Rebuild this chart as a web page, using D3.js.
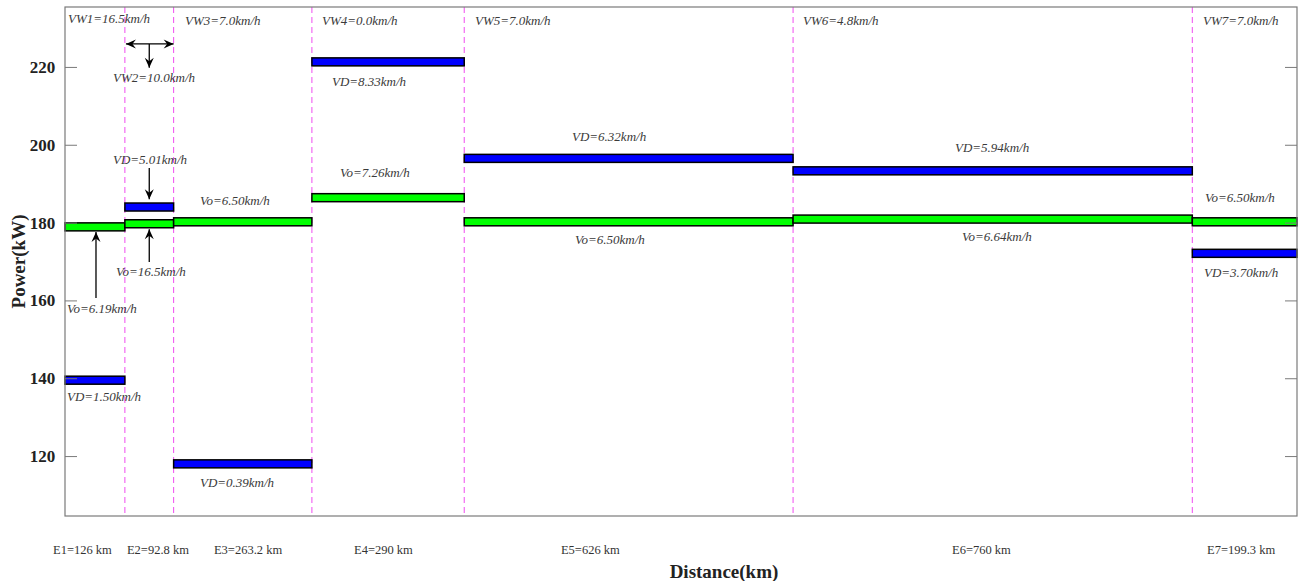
<!DOCTYPE html>
<html>
  <head>
    <meta charset="utf-8">
    <title>Power by stage</title>
    <style media="screen">
      body {margin:0; background:#fff}
      svg {display:block}
      .note {font: italic 13px "Liberation Serif", serif; fill: #3a3a3a}
      .stage {font: 12.5px "Liberation Serif", serif; fill: #333}
      .tick {font: bold 17px "Liberation Serif", serif; fill: #222}
      .title {font: bold 19px "Liberation Serif", serif; fill: #222}
    </style>
  </head>
  <body>
    <script src="https://cdn.jsdelivr.net/npm/d3@7"></script>
    <script type="text/javascript">

    // stages and their lengths (km)
    const stages = ['E1', 'E2', 'E3', 'E4', 'E5', 'E6', 'E7']
    const stageKm = [126, 92.8, 263.2, 290, 626, 760, 199.3]
    // where the stage names sit under the axis (km)
    const stageLabelKm = [-10.8, 130, 295.6, 562.2, 956.2, 1700.6, 2186]

    // power (kW) per stage
    const powerVD = [139.5, 184.0, 118.0, 221.3, 196.5, 193.3, 172.1]
    const powerVo = [178.9, 179.7, 180.2, 186.4, 180.2, 180.9, 180.2]

    const yTicks = [120, 140, 160, 180, 200, 220]

    // text notes: [text, km, kW]
    const notes = [
      ['VW1=16.5km/h', 17.7, 231.3],
      ['VW2=10.0km/h', 103.4, 216.1],
      ['VW3=7.0km/h', 240.4, 230.8],
      ['VW4=0.0km/h', 501.2, 230.8],
      ['VW5=7.0km/h', 792.5, 230.8],
      ['VW6=4.8km/h', 1416.9, 230.8],
      ['VW7=7.0km/h', 2178.4, 230.8],
      ['VD=5.01km/h', 103.4, 195.0],
      ['Vo=6.50km/h', 269.0, 184.5],
      ['Vo=16.5km/h', 109.1, 166.3],
      ['Vo=6.19km/h', 15.8, 156.8],
      ['VD=1.50km/h', 15.8, 134.1],
      ['VD=0.39km/h', 269.0, 112.0],
      ['VD=8.33km/h', 520.3, 215.1],
      ['Vo=7.26km/h', 535.5, 191.7],
      ['VD=6.32km/h', 977.2, 201.0],
      ['Vo=6.50km/h', 982.9, 174.5],
      ['VD=5.94km/h', 1706.3, 198.1],
      ['Vo=6.64km/h', 1719.6, 175.3],
      ['Vo=6.50km/h', 2182.2, 185.3],
      ['VD=3.70km/h', 2180.3, 166.0]
    ]

    // arrows: [km1, kW1, km2, kW2, double?]
    const arrows = [
      [128, 225.9, 218.8, 225.9, true],
      [172.4, 225.9, 172.4, 219.8, false],
      [172.4, 194.0, 172.4, 186.0, false],
      [172.4, 169.9, 172.4, 178.3, false],
      [71, 160.6, 71, 177.6, false]
    ]

    const W = 1298, H = 581
    const m = {l: 65, r: 1297, t: 7, b: 516}

    const svg = d3.select('body').append('svg')
      .attr('width', W)
      .attr('height', H)

    const x = d3.scaleLinear().domain([12, 2357.3]).range([m.l, m.r])
    const y = d3.scaleLinear().domain([104.6, 235.4]).range([m.b, m.t])

    const bounds = d3.cumsum([0].concat(stageKm))

    svg.append('defs').append('marker')
      .attr('id', 'head')
      .attr('viewBox', '-11 -6 12 12')
      .attr('refX', 0).attr('refY', 0)
      .attr('markerWidth', 12).attr('markerHeight', 12)
      .attr('markerUnits', 'userSpaceOnUse')
      .attr('orient', 'auto-start-reverse')
      .append('path')
      .attr('d', 'M0,0 L-10,-4.5 L-6.5,0 L-10,4.5 Z')
      .attr('fill', '#000')

    // stage boundaries
    svg.append('g').selectAll('line')
      .data(bounds.slice(1, -1))
      .join('line')
      .attr('x1', d => x(d)).attr('x2', d => x(d))
      .attr('y1', m.t).attr('y2', m.b)
      .attr('stroke', '#f04cf0')
      .attr('stroke-width', 1)
      .attr('stroke-dasharray', '6,4')

    // bars
    const barH = 8
    function bars (vals, color) {
      svg.append('g').selectAll('rect')
        .data(vals)
        .join('rect')
        .attr('x', (d, i) => x(Math.max(bounds[i], x.domain()[0])))
        .attr('width', (d, i) => x(bounds[i + 1]) - x(Math.max(bounds[i], x.domain()[0])))
        .attr('y', d => y(d) - barH / 2)
        .attr('height', barH)
        .attr('fill', color)
        .attr('stroke', '#000')
        .attr('stroke-width', 1.5)
    }
    bars(powerVo, '#00ff00')
    bars(powerVD, '#0000ff')

    // frame
    svg.append('rect')
      .attr('x', m.l).attr('y', m.t)
      .attr('width', m.r - m.l).attr('height', m.b - m.t)
      .attr('fill', 'none')
      .attr('stroke', '#7a7a7a')
      .attr('stroke-width', 1.2)

    const left = svg.append('g')
      .attr('transform', `translate(${m.l},0)`)
      .call(d3.axisLeft(y).tickValues(yTicks).tickSize(-12).tickPadding(8))
    left.select('.domain').remove()
    left.selectAll('line').attr('stroke', '#7a7a7a')
    left.selectAll('text').attr('class', 'tick').attr('fill', null).attr('dx', '-0.1em')

    const right = svg.append('g')
      .attr('transform', `translate(${m.r},0)`)
      .call(d3.axisRight(y).tickValues(yTicks).tickSize(-12).tickFormat(''))
    right.select('.domain').remove()
    right.selectAll('line').attr('stroke', '#7a7a7a')

    // notes
    svg.append('g').selectAll('text')
      .data(notes)
      .join('text')
      .attr('class', 'note')
      .attr('x', d => x(d[1]))
      .attr('y', d => y(d[2]))
      .text(d => d[0])

    // arrows
    svg.append('g').selectAll('line')
      .data(arrows)
      .join('line')
      .attr('x1', d => x(d[0])).attr('y1', d => y(d[1]))
      .attr('x2', d => x(d[2])).attr('y2', d => y(d[3]))
      .attr('stroke', '#000')
      .attr('stroke-width', 1.3)
      .attr('marker-end', 'url(#head)')
      .attr('marker-start', d => d[4] ? 'url(#head)' : null)

    // stage labels
    svg.append('g').selectAll('text')
      .data(stages)
      .join('text')
      .attr('class', 'stage')
      .attr('x', (d, i) => x(stageLabelKm[i]))
      .attr('y', 554)
      .text((d, i) => `${d}=${stageKm[i]} km`)

    svg.append('text')
      .attr('class', 'title')
      .attr('x', 724).attr('y', 578)
      .attr('text-anchor', 'middle')
      .text('Distance(km)')

    svg.append('text')
      .attr('class', 'title')
      .attr('transform', `translate(25,${(m.t + m.b) / 2}) rotate(-90)`)
      .attr('text-anchor', 'middle')
      .text('Power(kW)')
    </script>
  </body>
</html>
